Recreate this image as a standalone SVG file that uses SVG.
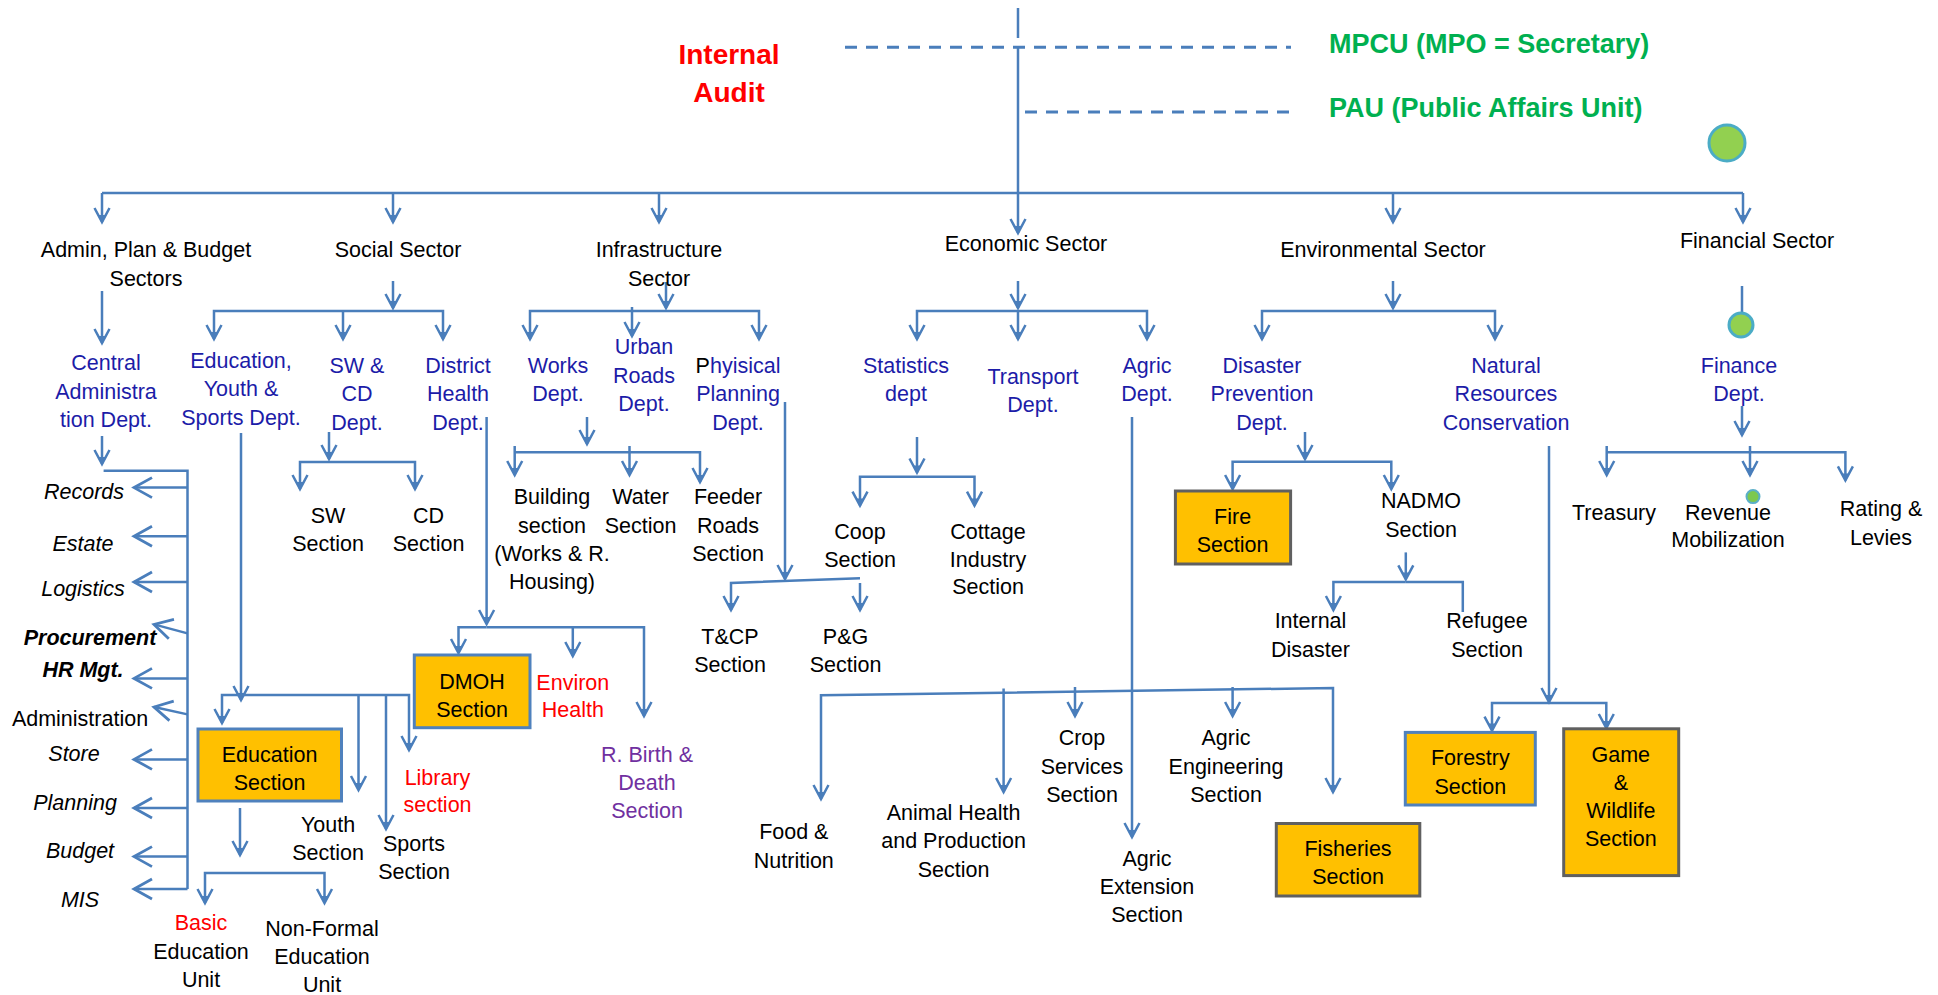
<svg xmlns="http://www.w3.org/2000/svg" width="1938" height="995" viewBox="0 0 1938 995">
<style>
text{font-family:"Liberation Sans",Arial,sans-serif;font-size:21.5px;text-anchor:middle;fill:#000}
.b{fill:#1C1CA8}
.r{fill:#FF0000}
.p{fill:#7030A0}
.i{font-style:italic}
.bi{font-style:italic;font-weight:bold}
.g{fill:#00B050;font-weight:bold;font-size:27px;text-anchor:start}
.ia{fill:#FF0000;font-weight:bold;font-size:28px}
.c path,.c line{fill:none;stroke:#4A7EBB;stroke-width:2.5}
.c .a{marker-end:url(#ah)}
.c .al{marker-end:url(#ahl)}
.c .d{stroke-dasharray:12 9;stroke-width:3}
.boxb{fill:#FFC000;stroke:#4F81BD;stroke-width:3}
.boxg{fill:#FFC000;stroke:#606060;stroke-width:3}
.dot{fill:#92D050;stroke:#4BACC6;stroke-width:3}
</style>
<defs>
<marker id="ah" markerUnits="userSpaceOnUse" markerWidth="30" markerHeight="30" refX="0" refY="0" orient="auto" overflow="visible">
<path d="M-14,-7.5 L0,0 L-14,7.5" fill="none" stroke="#4A7EBB" stroke-width="2.5"/>
<path d="M-7,-3.5 L0,0 L-7,3.5 Z" fill="#4A7EBB"/>
</marker>
<marker id="ahl" markerUnits="userSpaceOnUse" markerWidth="40" markerHeight="40" refX="0" refY="0" orient="auto" overflow="visible">
<path d="M-18,-10 L0,0 L-18,10" fill="none" stroke="#4A7EBB" stroke-width="2.8"/>
</marker>
</defs>
<rect width="1938" height="995" fill="#fff"/>

<g id="connectors" class="c">
<!-- top -->
<line x1="1018" y1="8" x2="1018" y2="38"/>
<path class="a" d="M1018,47 V233"/>
<line class="d" x1="845" y1="47.3" x2="1291" y2="47.3"/>
<line class="d" x1="1025" y1="112" x2="1298" y2="112"/>
<line x1="102" y1="193" x2="1743" y2="193"/>
<path class="a" d="M102,193 V222"/>
<path class="a" d="M393,193 V222"/>
<path class="a" d="M659,193 V222"/>
<path class="a" d="M1393,193 V222"/>
<path class="a" d="M1743,193 V222"/>
<!-- level 2 -->
<path class="a" d="M102,291 V343"/>
<path class="a" d="M393,281 V308"/>
<path class="a" d="M393,311 H214 V339"/>
<path class="a" d="M393,311 H443 V339"/>
<path class="a" d="M343,311 V339"/>
<path class="a" d="M666,282 V308"/>
<path class="a" d="M666,311 H530 V339"/>
<path class="a" d="M666,311 H759 V339"/>
<path class="a" d="M632,307 V336"/>
<path class="a" d="M1018,281 V308"/>
<path class="a" d="M1018,311 H917 V339"/>
<path class="a" d="M1018,311 H1147 V339"/>
<path class="a" d="M1018,311 V339"/>
<path class="a" d="M1393,281 V308"/>
<path class="a" d="M1393,311 H1262 V339"/>
<path class="a" d="M1393,311 H1495 V339"/>
<line x1="1742" y1="286" x2="1742" y2="313"/>
<!-- admin list -->
<path class="a" d="M102,436 V464"/>
<path d="M103.6,470.7 H187.5 V889"/>
<path class="al" d="M187.5,487.6 H134"/>
<path class="al" d="M187.5,536.2 H134"/>
<path class="al" d="M187.5,582 H134"/>
<path class="al" d="M187.5,633.4 L154,624.4"/>
<path class="al" d="M187.5,678.4 H134"/>
<path class="al" d="M187.5,714.4 L154,707"/>
<path class="al" d="M187.5,759.4 H134"/>
<path class="al" d="M187.5,808 H134"/>
<path class="al" d="M187.5,856.6 H134"/>
<path class="al" d="M187.5,889 H134"/>
<!-- education -->
<path class="a" d="M241,433 V700"/>
<path class="a" d="M241,695 H222 V723"/>
<path class="a" d="M241,695 H409 V750"/>
<path class="a" d="M358.5,695 V790"/>
<path class="a" d="M386,695 V829"/>
<path class="a" d="M240,808 V855"/>
<path class="a" d="M240,873 H205 V903"/>
<path class="a" d="M240,873 H324.5 V903"/>
<!-- sw cd -->
<path class="a" d="M329,432 V459"/>
<path class="a" d="M329,462 H300 V489"/>
<path class="a" d="M329,462 H415 V489"/>
<!-- district health -->
<path class="a" d="M486.6,417 V624"/>
<path class="a" d="M486.6,627.3 H458.5 V653"/>
<path class="a" d="M486.6,627.3 H644 V716"/>
<path class="a" d="M572.8,627.3 V656"/>
<!-- works -->
<path class="a" d="M587,417 V444"/>
<path class="a" d="M514.7,446 V475"/>
<path class="a" d="M514.7,452.3 H700 V482"/>
<path class="a" d="M629.5,446 V475"/>
<!-- physical planning -->
<path class="a" d="M785,402 V579"/>
<path class="a" d="M860,578.3 L731,583 V610"/>
<path class="a" d="M860,583 V610"/>
<!-- statistics -->
<path class="a" d="M917,437 V472.5"/>
<path class="a" d="M917,476.8 H860 V505.6"/>
<path class="a" d="M917,476.8 H974.5 V505.6"/>
<!-- agric -->
<path class="a" d="M1132,417 V837"/>
<path class="a" d="M1003.6,692.7 L821,695.3 V799"/>
<path class="a" d="M1003.6,692.7 L1333,688 V792"/>
<path class="a" d="M1003.6,688.5 V792"/>
<path class="a" d="M1075,687 V716"/>
<path class="a" d="M1232.6,687 V716"/>
<!-- disaster -->
<path class="a" d="M1305,432 V459"/>
<path class="a" d="M1305,461.7 H1232.6 V489"/>
<path class="a" d="M1305,461.7 H1391.3 V489"/>
<path class="a" d="M1405.8,552.4 V579.4"/>
<path class="a" d="M1405.8,582 H1333.4 V610"/>
<path d="M1405.8,582 H1462.8 V612"/>
<!-- natural resources -->
<path class="a" d="M1549,446 V702"/>
<path class="a" d="M1549,703 H1492 V730.6"/>
<path class="a" d="M1549,703 H1606.3 V728"/>
<!-- finance -->
<path class="a" d="M1742,406 V435"/>
<path class="a" d="M1606.7,446 V475"/>
<path class="a" d="M1606.7,452.3 H1845.4 V480.4"/>
<path class="a" d="M1750,446 V475"/>
</g>

<g id="internal-audit"><text class="ia" x="729" y="64">Internal</text><text class="ia" x="729" y="102">Audit</text></g>
<g id="mpcu"><text class="g" x="1329" y="53.3">MPCU (MPO = Secretary)</text></g>
<g id="pau"><text class="g" x="1329" y="117.3">PAU (Public Affairs Unit)</text></g>
<g id="green-dot-top"><circle class="dot" cx="1727" cy="143" r="18"/></g>
<g id="green-dot-finance"><circle class="dot" cx="1741" cy="325" r="12"/></g>
<g id="green-dot-revenue"><circle cx="1753" cy="496.6" r="6.5" fill="#7CC850" stroke="#5BAFC8" stroke-width="2"/></g>

<g id="admin"><text x="146" y="257">Admin, Plan &amp; Budget<tspan x="146" dy="28.5">Sectors</tspan></text></g>
<g id="social"><text x="398" y="257">Social Sector</text></g>
<g id="infra"><text x="659" y="257">Infrastructure<tspan x="659" dy="28.5">Sector</tspan></text></g>
<g id="economic"><text x="1026" y="250.7">Economic Sector</text></g>
<g id="environmental"><text x="1383" y="257">Environmental Sector</text></g>
<g id="financial"><text x="1757" y="248">Financial Sector</text></g>

<g id="central"><text class="b" x="106" y="370">Central<tspan x="106" dy="28.5">Administra</tspan><tspan x="106" dy="28.5">tion Dept.</tspan></text></g>
<g id="edu-dept"><text class="b" x="241" y="367.5">Education,<tspan x="241" dy="28.5">Youth &amp;</tspan><tspan x="241" dy="28.5">Sports Dept.</tspan></text></g>
<g id="swcd"><text class="b" x="357" y="372.5">SW &amp;<tspan x="357" dy="28.5">CD</tspan><tspan x="357" dy="28.5">Dept.</tspan></text></g>
<g id="district-health"><text class="b" x="458" y="372.5">District<tspan x="458" dy="28.5">Health</tspan><tspan x="458" dy="28.5">Dept.</tspan></text></g>
<g id="works"><text class="b" x="558" y="372.5">Works<tspan x="558" dy="28.5">Dept.</tspan></text></g>
<g id="urban"><text class="b" x="644" y="354">Urban<tspan x="644" dy="28.5">Roads</tspan><tspan x="644" dy="28.5">Dept.</tspan></text></g>
<g id="physical"><text class="b" x="738" y="372.5"><tspan fill="#000">P</tspan>hyisical<tspan x="738" dy="28.5">Planning</tspan><tspan x="738" dy="28.5">Dept.</tspan></text></g>
<g id="statistics"><text class="b" x="906" y="372.5">Statistics<tspan x="906" dy="28.5">dept</tspan></text></g>
<g id="transport"><text class="b" x="1033" y="383.5">Transport<tspan x="1033" dy="28.5">Dept.</tspan></text></g>
<g id="agric"><text class="b" x="1147" y="372.5">Agric<tspan x="1147" dy="28.5">Dept.</tspan></text></g>
<g id="disaster"><text class="b" x="1262" y="372.5">Disaster<tspan x="1262" dy="28.5">Prevention</tspan><tspan x="1262" dy="28.5">Dept.</tspan></text></g>
<g id="natural"><text class="b" x="1506" y="372.5">Natural<tspan x="1506" dy="28.5">Resources</tspan><tspan x="1506" dy="28.5">Conservation</tspan></text></g>
<g id="finance"><text class="b" x="1739" y="372.5">Finance<tspan x="1739" dy="28.5">Dept.</tspan></text></g>

<g id="records"><text class="i" x="84" y="498.5">Records</text></g>
<g id="estate"><text class="i" x="83" y="551">Estate</text></g>
<g id="logistics"><text class="i" x="83" y="596">Logistics</text></g>
<g id="procurement"><text class="bi" x="90" y="645">Procurement</text></g>
<g id="hr"><text class="bi" x="83" y="677">HR Mgt.</text></g>
<g id="administration"><text x="80" y="725.5">Administration</text></g>
<g id="store"><text class="i" x="74" y="760.5">Store</text></g>
<g id="planning"><text class="i" x="75" y="810">Planning</text></g>
<g id="budget"><text class="i" x="80" y="858">Budget</text></g>
<g id="mis"><text class="i" x="80" y="906.5">MIS</text></g>

<g id="edu-section"><rect class="boxb" x="198" y="729" width="143.5" height="72"/><text x="269.6" y="761.5">Education<tspan x="269.6" dy="28">Section</tspan></text></g>
<g id="library"><text class="r" x="437.5" y="785">Library<tspan x="437.5" dy="27">section</tspan></text></g>
<g id="youth"><text x="328" y="831.5">Youth<tspan x="328" dy="28">Section</tspan></text></g>
<g id="sports"><text x="414" y="850.5">Sports<tspan x="414" dy="28">Section</tspan></text></g>
<g id="basic"><text x="201" y="930"><tspan class="r">Basic</tspan><tspan x="201" dy="28.5">Education</tspan><tspan x="201" dy="28">Unit</tspan></text></g>
<g id="nonformal"><text x="322" y="936">Non-Formal<tspan x="322" dy="28">Education</tspan><tspan x="322" dy="28">Unit</tspan></text></g>
<g id="sw-section"><text x="328" y="523">SW<tspan x="328" dy="28">Section</tspan></text></g>
<g id="cd-section"><text x="428.6" y="523">CD<tspan x="428.6" dy="28">Section</tspan></text></g>
<g id="dmoh"><rect class="boxb" x="414.3" y="655" width="115.7" height="72.7"/><text x="472" y="688.5">DMOH<tspan x="472" dy="28">Section</tspan></text></g>
<g id="environ-health"><text class="r" x="572.8" y="689.5">Environ<tspan x="572.8" dy="27.5">Health</tspan></text></g>
<g id="birth-death"><text class="p" x="647" y="761.5">R. Birth &amp;<tspan x="647" dy="28">Death</tspan><tspan x="647" dy="28">Section</tspan></text></g>
<g id="building"><text x="552" y="504">Building<tspan x="552" dy="28.5">section</tspan><tspan x="552" dy="28">(Works &amp; R.</tspan><tspan x="552" dy="28">Housing)</tspan></text></g>
<g id="water"><text x="640.6" y="504">Water<tspan x="640.6" dy="28.5">Section</tspan></text></g>
<g id="feeder"><text x="728" y="504">Feeder<tspan x="728" dy="28.5">Roads</tspan><tspan x="728" dy="28">Section</tspan></text></g>
<g id="tcp"><text x="730" y="643.5">T&amp;CP<tspan x="730" dy="28.5">Section</tspan></text></g>
<g id="pg"><text x="845.5" y="643.5">P&amp;G<tspan x="845.5" dy="28.5">Section</tspan></text></g>
<g id="coop"><text x="860" y="539">Coop<tspan x="860" dy="27.5">Section</tspan></text></g>
<g id="cottage"><text x="988" y="539">Cottage<tspan x="988" dy="27.5">Industry</tspan><tspan x="988" dy="27.5">Section</tspan></text></g>
<g id="food"><text x="793.8" y="839">Food &amp;<tspan x="793.8" dy="28.5">Nutrition</tspan></text></g>
<g id="animal"><text x="953.6" y="820">Animal Health<tspan x="953.6" dy="28">and Production</tspan><tspan x="953.6" dy="28.5">Section</tspan></text></g>
<g id="crop"><text x="1082" y="745">Crop<tspan x="1082" dy="28.5">Services</tspan><tspan x="1082" dy="28">Section</tspan></text></g>
<g id="agric-eng"><text x="1226" y="745">Agric<tspan x="1226" dy="28.5">Engineering</tspan><tspan x="1226" dy="28">Section</tspan></text></g>
<g id="agric-ext"><text x="1147" y="866">Agric<tspan x="1147" dy="27.5">Extension</tspan><tspan x="1147" dy="28.5">Section</tspan></text></g>
<g id="fisheries"><rect class="boxg" x="1276.3" y="823.5" width="143.5" height="72.5"/><text x="1348" y="856">Fisheries<tspan x="1348" dy="28">Section</tspan></text></g>
<g id="fire"><rect class="boxg" x="1175.4" y="491" width="115.2" height="73"/><text x="1232.6" y="524">Fire<tspan x="1232.6" dy="28">Section</tspan></text></g>
<g id="nadmo"><text x="1421" y="507.7">NADMO<tspan x="1421" dy="28.8">Section</tspan></text></g>
<g id="internal-disaster"><text x="1310.5" y="628">Internal<tspan x="1310.5" dy="29">Disaster</tspan></text></g>
<g id="refugee"><text x="1487" y="628">Refugee<tspan x="1487" dy="29">Section</tspan></text></g>
<g id="forestry"><rect class="boxb" x="1405.3" y="732.4" width="130" height="72.6"/><text x="1470.3" y="765">Forestry<tspan x="1470.3" dy="29">Section</tspan></text></g>
<g id="game"><rect class="boxg" x="1563.7" y="728.8" width="115" height="146.8"/><text x="1620.8" y="761.5">Game<tspan x="1620.8" dy="28.2">&amp;</tspan><tspan x="1620.8" dy="28.2">Wildlife</tspan><tspan x="1620.8" dy="28.2">Section</tspan></text></g>
<g id="treasury"><text x="1614" y="519.5">Treasury</text></g>
<g id="revenue"><text x="1728" y="519.5">Revenue<tspan x="1728" dy="27.5">Mobilization</tspan></text></g>
<g id="rating"><text x="1881" y="516">Rating &amp;<tspan x="1881" dy="28.5">Levies</tspan></text></g>
</svg>
